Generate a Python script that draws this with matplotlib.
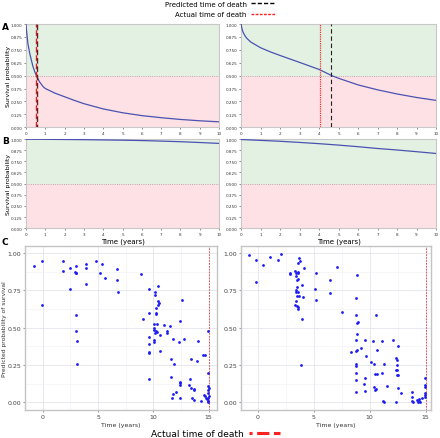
import matplotlib
matplotlib.use("Agg")
import matplotlib.pyplot as plt
from matplotlib.lines import Line2D
from matplotlib.ticker import MultipleLocator

# ---- panel A: survival curves
a_left_t = [0, 0.02, 0.05, 0.1, 0.19, 0.28, 0.36, 0.45, 0.54, 0.7, 0.88, 1, 1.5, 2, 2.5, 3, 4, 5, 6, 7, 8, 9, 10]
a_left_s = [1.0, 0.95, 0.9, 0.81, 0.72, 0.65, 0.59, 0.54, 0.5, 0.44, 0.395, 0.375, 0.33, 0.295, 0.26, 0.228, 0.177, 0.14, 0.112, 0.092, 0.075, 0.062, 0.052]
a_right_t = [0, 0.02, 0.05, 0.1, 0.2, 0.3, 0.5, 1, 1.5, 2, 3, 4, 4.65, 5, 6, 7, 8, 9, 10]
a_right_s = [1.0, 0.975, 0.95, 0.92, 0.885, 0.86, 0.825, 0.77, 0.73, 0.695, 0.628, 0.56, 0.5, 0.474, 0.41, 0.362, 0.322, 0.288, 0.26]
a_left_pred, a_left_actual = 0.55, 0.54
a_right_pred, a_right_actual = 4.62, 4.05

# ---- panel B: survival curves
b_t = [0, 1, 2, 3, 4, 5, 6, 7, 8, 9, 10]
b_left_s = [0.998, 0.997, 0.995, 0.993, 0.99, 0.987, 0.983, 0.977, 0.97, 0.961, 0.951]
b_right_s = [0.995, 0.985, 0.975, 0.962, 0.948, 0.932, 0.914, 0.894, 0.877, 0.858, 0.838]

# ---- panel C: predicted probability vs time
c_left_x = [-0.78, -0.03, 1.8, 1.8, 2.46, 2.97, 3.87, 3.87, 4.8, 5.37, 2.9, 2.97, 3.03, 5.2, 5.6, 6.72,
            6.72, 8.9, 2.46, 3.87, 6.8, -0.03, 2.97, 2.97, 3.06, 3.06, 9.57, 10.4, 10.17, 10.17, 10.4,
            10.47, 10.4, 10.2, 12.6, 9.6, 10.2, 10.26, 9.06, 12.45, 10.1, 10.3, 10.05, 10.1, 10.2, 10.3,
            10.15, 11.0, 11.5, 11.25, 11.25, 10.56, 9.6, 10.1, 10.1, 11.8, 12.3, 12.8, 14.07, 9.6, 10.6,
            9.6, 9.62, 11.6, 11.85, 13.4, 13.95, 14.5, 14.67, 14.97, 14.9, 9.6, 11.6, 12.4, 12.4, 12.4,
            13.3, 13.2, 13.4, 13.66, 13.66, 12.06, 11.8, 11.67, 12.4, 13.5, 13.66, 14.3, 14.6, 14.67,
            14.76, 14.85, 14.9, 14.97, 14.9, 15.0, 14.97, 14.97, 15.0, 14.97]
c_left_y = [0.915, 0.95, 0.95, 0.88, 0.9, 0.915, 0.926, 0.9, 0.95, 0.926, 0.873, 0.866, 0.866, 0.87, 0.836, 0.897,
            0.82, 0.863, 0.757, 0.795, 0.74, 0.656, 0.589, 0.48, 0.41, 0.26, 0.757, 0.78, 0.74, 0.72, 0.68,
            0.667, 0.65, 0.634, 0.683, 0.596, 0.593, 0.596, 0.56, 0.548, 0.526, 0.526, 0.5, 0.483, 0.48, 0.47,
            0.462, 0.52, 0.51, 0.48, 0.462, 0.454, 0.438, 0.42, 0.405, 0.427, 0.407, 0.427, 0.413, 0.389, 0.346,
            0.333, 0.338, 0.292, 0.26, 0.292, 0.279, 0.315, 0.315, 0.476, 0.195, 0.157, 0.173, 0.14, 0.133, 0.12,
            0.157, 0.12, 0.1, 0.09, 0.083, 0.072, 0.056, 0.031, 0.031, 0.031, 0.016, 0.011, 0.05, 0.04,
            0.03, 0.02, 0.011, 0.004, 0.11, 0.1, 0.083, 0.065, 0.043, 0.027]
c_right_x = [-0.81, -0.2, 0.48, 1.08, 1.83, 2.1, 3.69, 3.75, 3.57, 4.08, 2.91, 2.91, 3.3, 3.45, 3.55, 3.62,
             3.39, 3.5, 3.6, 5.19, 7.05, 8.82, 6.45, -0.18, 3.51, 3.96, 3.45, 3.6, 3.4, 5.1, 6.45, 3.5, 3.65,
             4.0, 5.19, 8.76, 3.39, 3.35, 3.52, 3.62, 3.62, 7.53, 8.79, 10.53, 3.93, 8.94, 8.85, 8.82, 8.76,
             9.54, 10.32, 11.07, 12.09, 12.54, 10.68, 8.82, 8.79, 9.18, 8.31, 9.66, 10.14, 10.41, 11.25, 12.33,
             12.42, 12.45, 12.45, 12.39, 12.54, 12.48, 3.9, 8.76, 8.76, 10.47, 10.65, 11.07, 8.76, 9.54, 8.79,
             9.48, 10.41, 10.56, 10.44, 9.6, 8.76, 11.52, 12.54, 12.81, 11.22, 11.25, 12.39, 13.8, 13.74, 13.8,
             13.86, 14.2, 14.3, 14.4, 14.45, 14.5, 14.64, 14.94, 14.94, 14.97, 14.94, 14.91, 14.97]
c_right_y = [0.99, 0.953, 0.919, 0.975, 0.957, 0.993, 0.97, 0.948, 0.937, 0.903, 0.87, 0.86, 0.88, 0.87, 0.865, 0.875,
             0.85, 0.82, 0.825, 0.867, 0.908, 0.856, 0.818, 0.806, 0.775, 0.784, 0.75, 0.743, 0.739, 0.759, 0.732, 0.716, 0.716,
             0.707, 0.687, 0.703, 0.68, 0.653, 0.646, 0.642, 0.626, 0.606, 0.586, 0.586, 0.556, 0.54, 0.529, 0.459, 0.421,
             0.417, 0.412, 0.41, 0.417, 0.378, 0.349, 0.354, 0.347, 0.365, 0.336, 0.309, 0.27, 0.255, 0.259, 0.297,
             0.286, 0.252, 0.218, 0.214, 0.182, 0.185, 0.248, 0.255, 0.243, 0.189, 0.189, 0.2, 0.198, 0.167, 0.151,
             0.126, 0.106, 0.092, 0.083, 0.079, 0.072, 0.11, 0.095, 0.063, 0.011, 0.0, 0.005, 0.072, 0.038, 0.011,
             0.0, 0.015, 0.0, 0.008, 0.02, 0.0, 0.03, 0.164, 0.117, 0.106, 0.063, 0.05, 0.038]
c_death = 15

GREEN = '#e3f1e3'
PINK = '#fde1e5'
CURVE = '#4b52b0'
SPINE = '#c8c8c8'


def surv_axes(ax, t, s, xlabel=False, ylabel=False):
    ax.axhspan(0.5, 1.0, color=GREEN, lw=0, zorder=0)
    ax.axhspan(0.0, 0.5, color=PINK, lw=0, zorder=0)
    ax.axhline(0.5, color='#999999', ls=':', lw=0.6, zorder=1)
    ax.plot(t, s, color=CURVE, lw=0.9, zorder=3)
    ax.set_xlim(0, 10)
    ax.set_ylim(0, 1)
    ax.set_xticks(range(11))
    ax.set_yticks([i * 0.125 for i in range(9)])
    ax.set_yticklabels(['%.3f' % (i * 0.125) for i in range(9)])
    ax.tick_params(labelsize=3, length=1.5, width=0.4, pad=1, colors='#333333')
    for sp in ax.spines.values():
        sp.set_color(SPINE)
        sp.set_linewidth(0.8)
    if xlabel:
        ax.set_xlabel('Time (years)', fontsize=5, labelpad=1)
    if ylabel:
        ax.set_ylabel('Survival probability', fontsize=4.5)
        ax.yaxis.set_label_coords(-0.075, 0.5)


def scatter_axes(ax, x, y, xlim, ylabel=False):
    ax.set_facecolor('white')
    ax.xaxis.set_major_locator(MultipleLocator(5))
    ax.xaxis.set_minor_locator(MultipleLocator(2.5))
    ax.yaxis.set_major_locator(MultipleLocator(0.25))
    ax.yaxis.set_minor_locator(MultipleLocator(0.125))
    ax.grid(True, which='major', color='#e4e4ec', lw=0.6)
    ax.grid(True, which='minor', color='#f0f0f4', lw=0.4)
    ax.set_axisbelow(True)
    ax.axvline(c_death, color='#e8393b', ls=(0, (2, 1.5)), lw=0.6, zorder=2)
    ax.scatter(x, y, s=4, color='#1c1cf0', lw=0, zorder=3)
    ax.set_xlim(*xlim)
    ax.set_ylim(-0.05, 1.05)
    ax.set_yticks([0, 0.25, 0.5, 0.75, 1.0])
    ax.set_yticklabels(['0.00', '0.25', '0.50', '0.75', '1.00'])
    ax.tick_params(which='both', labelsize=4.5, length=1.5, width=0.4, pad=1.5, colors='#444444')
    ax.tick_params(which='minor', length=0)
    for sp in ax.spines.values():
        sp.set_color('#c4c4c4')
        sp.set_linewidth(1.0)
    ax.set_xlabel('Time (years)', fontsize=4.5, labelpad=2, color='#333333')
    if ylabel:
        ax.set_ylabel('Predicted probability of survival', fontsize=4.3, color='#333333')
        ax.yaxis.set_label_coords(-0.095, 0.5)


fig = plt.figure(figsize=(4.4, 4.39), dpi=100)

ax_a1 = fig.add_axes([0.059, 0.708, 0.439, 0.235])
ax_a2 = fig.add_axes([0.548, 0.708, 0.443, 0.235])
ax_b1 = fig.add_axes([0.059, 0.478, 0.439, 0.203])
ax_b2 = fig.add_axes([0.548, 0.478, 0.443, 0.203])
ax_c1 = fig.add_axes([0.057, 0.064, 0.436, 0.374])
ax_c2 = fig.add_axes([0.548, 0.064, 0.432, 0.374])

surv_axes(ax_a1, a_left_t, a_left_s, ylabel=True)
surv_axes(ax_a2, a_right_t, a_right_s)
surv_axes(ax_b1, b_t, b_left_s, xlabel=True, ylabel=True)
surv_axes(ax_b2, b_t, b_right_s, xlabel=True)

ax_a1.axvline(a_left_actual, color='#e02020', ls=(0, (4, 2)), lw=1.0, zorder=4)
ax_a1.axvline(a_left_pred, color='#5a2020', ls=(2, (4, 2)), lw=1.0, zorder=4)
ax_a2.axvline(a_right_actual, color='#f03030', ls=(0, (1, 0.8)), lw=0.9, zorder=4)
ax_a2.axvline(a_right_pred, color='#222222', ls=(0, (4, 2.5)), lw=0.8, zorder=4)

scatter_axes(ax_c1, c_left_x, c_left_y, (-1.6, 15.75), ylabel=True)
scatter_axes(ax_c2, c_right_x, c_right_y, (-1.5, 15.5))

for lab, ypix in [('A', 28), ('B', 142), ('C', 243)]:
    fig.text(0.004, 1 - ypix / 439, lab, fontsize=6.5, fontweight='bold', ha='left', va='center')

top_handles = [Line2D([], [], color='black', ls=(0, (3, 1.5)), lw=1.0),
               Line2D([], [], color='#ff2020', ls=(0, (2, 1)), lw=1.0)]
fig.legend(top_handles, ['Predicted time of death', 'Actual time of death'],
           loc='upper center', bbox_to_anchor=(0.5, 1.01), frameon=False, markerfirst=False,
           fontsize=5, handlelength=3.5, handletextpad=0.6, labelspacing=0.6)

bot_handle = [Line2D([], [], color='#ff2020', ls=(0, (1, 1.5, 4, 1.5, 4, 1.5, 4, 1.5)), lw=2.2)]
fig.legend(bot_handle, ['Actual time of death'], loc='lower center', bbox_to_anchor=(0.49, -0.018),
           frameon=False, markerfirst=False, fontsize=6.5, handlelength=3.5, handletextpad=0.6)

fig.savefig('out.png', dpi=100)
